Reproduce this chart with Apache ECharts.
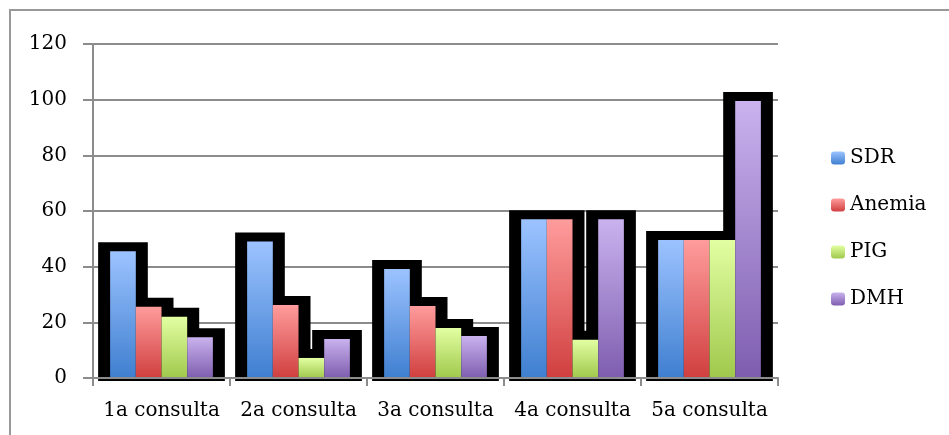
<!DOCTYPE html>
<html><head><meta charset="utf-8">
<script src="https://cdn.jsdelivr.net/npm/echarts@6/dist/echarts.min.js"></script>
<style>html,body{margin:0;padding:0;background:#fff}#c{width:949px;height:435px}</style>
</head><body><div id="c"></div>
<script>
const categories = ['1a consulta','2a consulta','3a consulta','4a consulta','5a consulta'];
const seriesNames = ['SDR','Anemia','PIG','DMH'];
const SDR = [45.5, 49, 39.2, 57, 49.6];
const Anemia = [25.6, 26.2, 25.9, 57, 49.6];
const PIG = [22, 7.2, 18, 13.7, 49.6];
const DMH = [14.6, 14, 15.1, 57, 99.5];
const yTicks = [0, 20, 40, 60, 80, 100, 120];

const values = [SDR, Anemia, PIG, DMH];
const topColors = ['#9cc3ff','#ff9c9c','#e2ffa2','#c9b2ee'];
const botColors = ['#3f7fd0','#d03f3f','#a0c84c','#7e5daf'];
const font = 'DejaVu Serif';
const gridCol = '#8c8c8c';
const catGap = 0.25;

const shadowData = categories.map((c, i) => [i].concat(values.map(arr => arr[i])));

const chart = echarts.init(document.getElementById('c'));
chart.setOption({
  animation: false,
  backgroundColor: '#fff',
  graphic: [{type:'rect', shape:{x:10,y:10,width:1000,height:500}, style:{fill:'none', stroke:'#999', lineWidth:2}, z:-10}],
  grid: {left: 93, right: 171, top: 44, bottom: 57},
  legend: {
    orient: 'vertical', left: 826, top: 143, itemGap: 27,
    itemWidth: 14, itemHeight: 13,
    textStyle: {fontFamily: font, fontSize: 20, color: '#000'},
    data: seriesNames
  },
  xAxis: {
    type: 'category', data: categories, z: 5,
    axisLine: {lineStyle: {color: gridCol, width: 2}},
    axisTick: {show: true, length: 8, lineStyle: {color: gridCol, width: 2}},
    axisLabel: {fontFamily: font, fontSize: 20, color: '#000', margin: 23, interval: 0}
  },
  yAxis: {
    type: 'value', min: yTicks[0], max: yTicks[yTicks.length-1], interval: yTicks[1]-yTicks[0],
    axisLine: {show: true, lineStyle: {color: gridCol, width: 2}},
    axisTick: {show: true, length: 10, lineStyle: {color: gridCol, width: 2}},
    splitLine: {lineStyle: {color: gridCol, width: 2}},
    axisLabel: {fontFamily: font, fontSize: 20, color: '#000', margin: 26}
  },
  series: [
    {
      type: 'custom', z: 1, silent: true, legendHoverLink: false,
      emphasis: {disabled: true},
      data: shadowData,
      encode: {x: 0, y: [1, 2, 3, 4]},
      renderItem: function (params, api) {
        const cat = api.value(0);
        const base = api.coord([cat, 0]);
        const bandW = api.size([1, 0])[0];
        const groupW = bandW * (1 - catGap);
        const barW = groupW / 4;
        const bottom = base[1] + 3;
        const pts = [];
        const rects = [];
        for (let s = 0; s < 4; s++) {
          const x0 = base[0] - groupW / 2 + s * barW;
          const top = api.coord([cat, api.value(s + 1)])[1] - 9;
          rects.push([x0 - 12, x0 + barW + 12, top]);
        }
        const xs = [];
        rects.forEach(r => { xs.push(r[0], r[1]); });
        xs.sort((a, b) => a - b);
        const uniq = xs.filter((v, i) => i === 0 || v !== xs[i - 1]);
        pts.push([uniq[0], bottom]);
        for (let k = 0; k < uniq.length - 1; k++) {
          const mid = (uniq[k] + uniq[k + 1]) / 2;
          let t = bottom;
          rects.forEach(r => { if (mid >= r[0] && mid <= r[1]) t = Math.min(t, r[2]); });
          pts.push([uniq[k], t], [uniq[k + 1], t]);
        }
        pts.push([uniq[uniq.length - 1], bottom]);
        return {type: 'polygon', shape: {points: pts}, style: {fill: '#000', stroke: null, lineWidth: 0}};
      }
    }
  ].concat(seriesNames.map((n, s) => ({
    name: n, type: 'bar', z: 3, barGap: 0, barCategoryGap: (catGap*100)+'%',
    data: values[s],
    itemStyle: {color: new echarts.graphic.LinearGradient(0,0,0,1,[{offset:0,color:topColors[s]},{offset:1,color:botColors[s]}])}
  })))
});
</script></body></html>
